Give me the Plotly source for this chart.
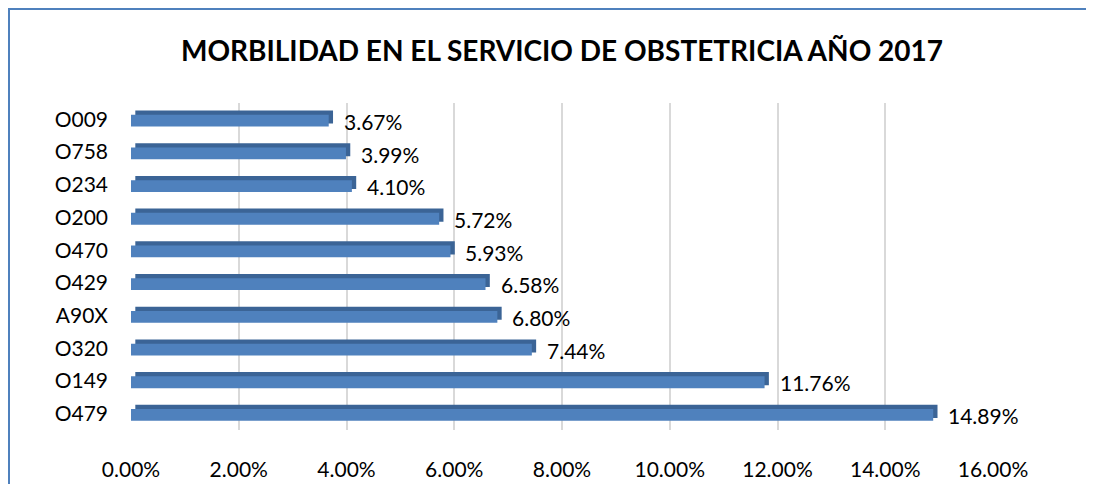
import plotly.graph_objects as go

categories = ["O009", "O758", "O234", "O200", "O470", "O429", "A90X", "O320", "O149", "O479"]
values = [3.67, 3.99, 4.10, 5.72, 5.93, 6.58, 6.80, 7.44, 11.76, 14.89]
labels = ["3.67%", "3.99%", "4.10%", "5.72%", "5.93%", "6.58%", "6.80%", "7.44%", "11.76%", "14.89%"]
tick_vals = [0, 2, 4, 6, 8, 10, 12, 14, 16]
tick_text = ["0.00%", "2.00%", "4.00%", "6.00%", "8.00%", "10.00%", "12.00%", "14.00%", "16.00%"]
title = "MORBILIDAD EN EL SERVICIO DE OBSTETRICIA AÑO 2017"

FONT = "Lato"
L, T, W, H = 123, 95, 862, 327
fig = go.Figure()
# depth (top/side) face
fig.add_trace(go.Bar(
    y=categories, x=values, orientation="h", base=0.08,
    width=0.40, offset=-0.27,
    marker=dict(color="#3B6496", line=dict(width=0)),
    hoverinfo="skip", showlegend=False,
))
# front face
fig.add_trace(go.Bar(
    y=categories, x=values, orientation="h",
    width=0.36, offset=-0.14,
    marker=dict(color="#4F81BD", line=dict(width=0)),
    showlegend=False,
))
for c, v, t in zip(categories, values, labels):
    fig.add_annotation(x=v, y=c, text=t, showarrow=False, xanchor="left",
                       xshift=13, yshift=-2, font=dict(family=FONT, size=21, color="#000000"))

fig.add_shape(type="rect", xref="paper", yref="paper",
              x0=(1 - L) / W, x1=(1081 - L) / W,
              y0=(T + H - 500) / H, y1=(T + H - 1) / H,
              line=dict(color="#4F81BD", width=2), fillcolor="rgba(0,0,0,0)", layer="below")

fig.update_layout(
    width=1094, height=484,
    margin=dict(l=L, r=1094 - L - W, t=T, b=484 - T - H),
    paper_bgcolor="white", plot_bgcolor="white",
    barmode="overlay",
    title=dict(text=title, x=0.5, xref="paper", xanchor="center", y=1 - 43 / 484, yanchor="middle",
               font=dict(family=FONT, size=28, color="#000000", weight="bold")),
    font=dict(family=FONT, size=21, color="#000000"),
    xaxis=dict(range=[0, 16], tickvals=tick_vals, ticktext=tick_text, automargin=False,
               showgrid=True, gridcolor="#D9D9D9", gridwidth=2, zeroline=False,
               showline=False, ticks="", ticklabelstandoff=25,
               tickfont=dict(family=FONT, size=21, color="#000000")),
    yaxis=dict(range=[9.5, -0.5], showgrid=False, zeroline=False, showline=False,
               ticks="", ticklabelstandoff=22, automargin=False,
               tickfont=dict(family=FONT, size=21, color="#000000")),
)
fig.write_html("out.html")
